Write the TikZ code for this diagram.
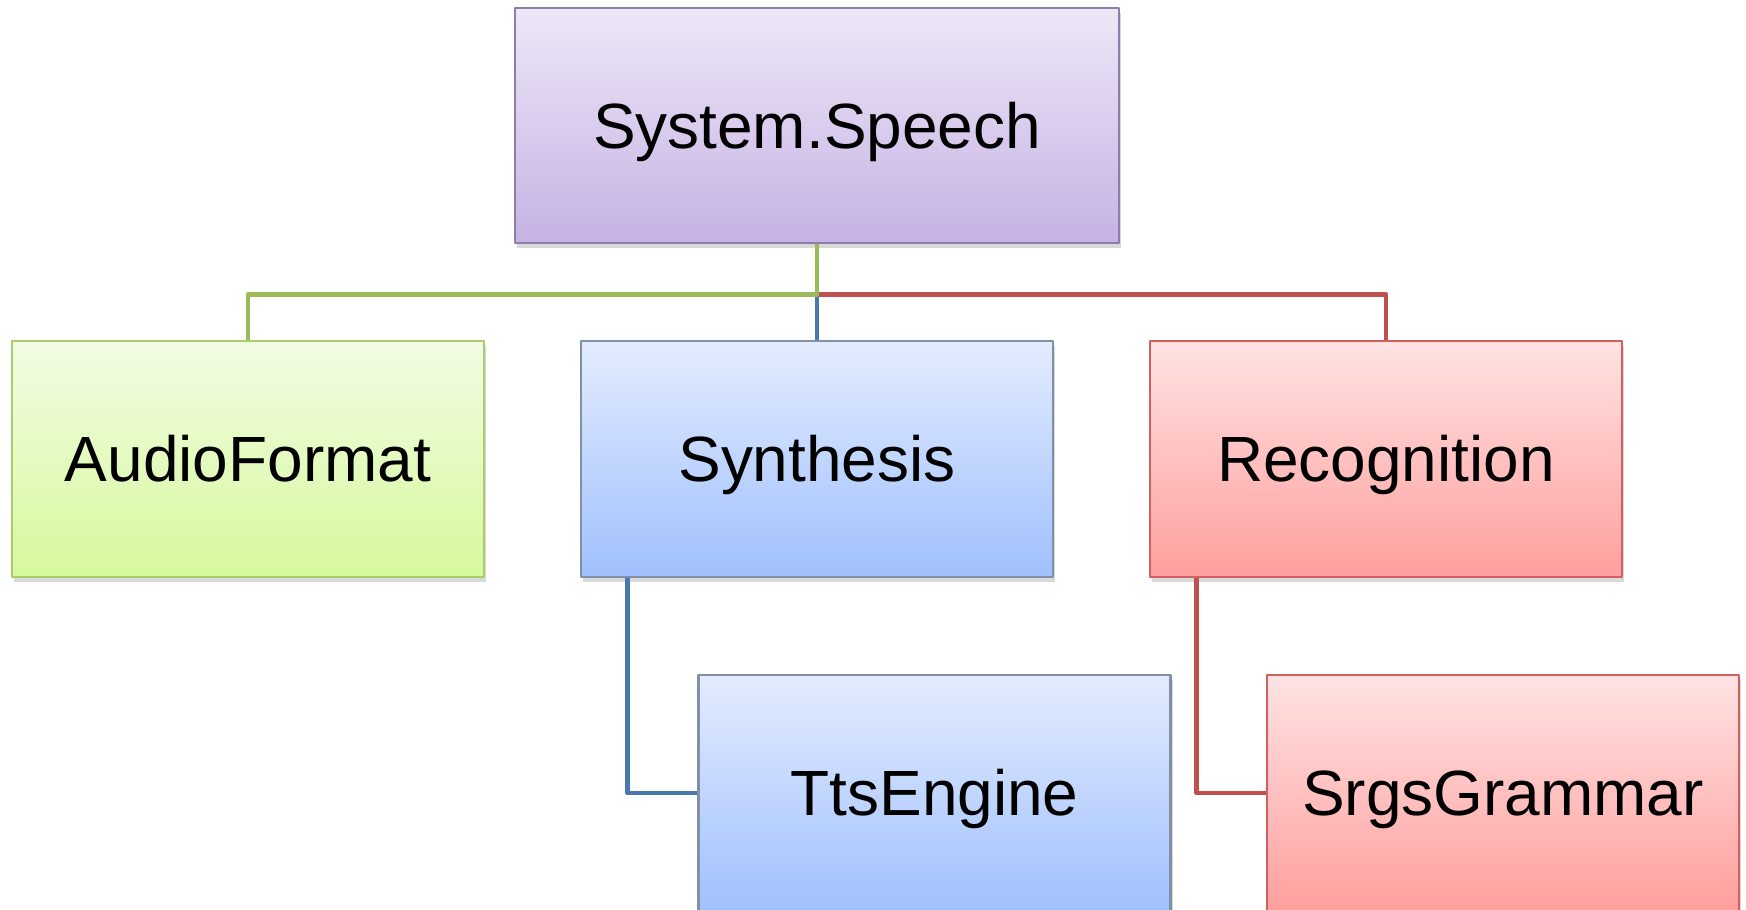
\documentclass[tikz,border=0pt]{standalone}
\usepackage{fontspec}
\setmainfont{Liberation Sans}
\usetikzlibrary{shadows,calc}
\definecolor{purpTop}{HTML}{EEE7F7}
\definecolor{purpBot}{HTML}{C6B2E4}
\definecolor{purpLine}{HTML}{8E7DAA}
\definecolor{grnTop}{HTML}{F2FCE4}
\definecolor{grnBot}{HTML}{D6F99C}
\definecolor{grnLine}{HTML}{A8CC6E}
\definecolor{bluTop}{HTML}{E3ECFE}
\definecolor{bluBot}{HTML}{A0C0FE}
\definecolor{bluLine}{HTML}{8090A6}
\definecolor{redTop}{HTML}{FFE3E3}
\definecolor{redBot}{HTML}{FF9F9E}
\definecolor{redLine}{HTML}{D2605F}
\definecolor{grnWire}{HTML}{9BBB59}
\definecolor{bluWire}{HTML}{4A77AC}
\definecolor{redWire}{HTML}{C0504D}

\begin{document}
\begin{tikzpicture}[line join=round, line cap=round,
  box/.style={draw, line width=0.75pt, minimum width=4.72cm, minimum height=2.36cm, inner sep=0pt,
    font=\fontsize{18.2}{22}\selectfont, text height=0.46cm, text depth=0pt,
    drop shadow={opacity=0.3, shadow xshift=0.02cm, shadow yshift=-0.05cm}},
  purp/.style={box, draw=purpLine, top color=purpTop, bottom color=purpBot},
  grn/.style={box, draw=grnLine, top color=grnTop, bottom color=grnBot},
  blu/.style={box, draw=bluLine, top color=bluTop, bottom color=bluBot},
  rd/.style={box, draw=redLine, top color=redTop, bottom color=redBot},
  wire/.style={line width=1.4pt, line cap=butt}]
\useasboundingbox (0,0) rectangle (17.46,-9.10);
\node[purp, minimum width=6.04cm, minimum height=2.35cm] (speech) at (8.17,-1.255) {System.Speech};
\node[grn] (audio) at (2.48,-4.59) {AudioFormat};
\node[blu] (synth) at (8.17,-4.59) {Synthesis};
\node[rd] (recog) at (13.86,-4.59) {Recognition};
\node[blu] (tts) at (9.345,-7.93) {TtsEngine};
\node[rd] (srgs) at (15.03,-7.93) {SrgsGrammar};
\coordinate (hub) at ($(speech.south)+(0,-0.50)$);
\draw[wire,redWire](hub) -| (recog.north);
\draw[wire,bluWire](hub) -- (synth.north);
\draw[wire,grnWire](speech.south) -- (hub) -| (audio.north);
\draw[wire,bluWire]($(synth.south west)+(0.48,0)$) |- (tts.west);
\draw[wire,redWire]($(recog.south west)+(0.48,0)$) |- (srgs.west);
\end{tikzpicture}
\end{document}
